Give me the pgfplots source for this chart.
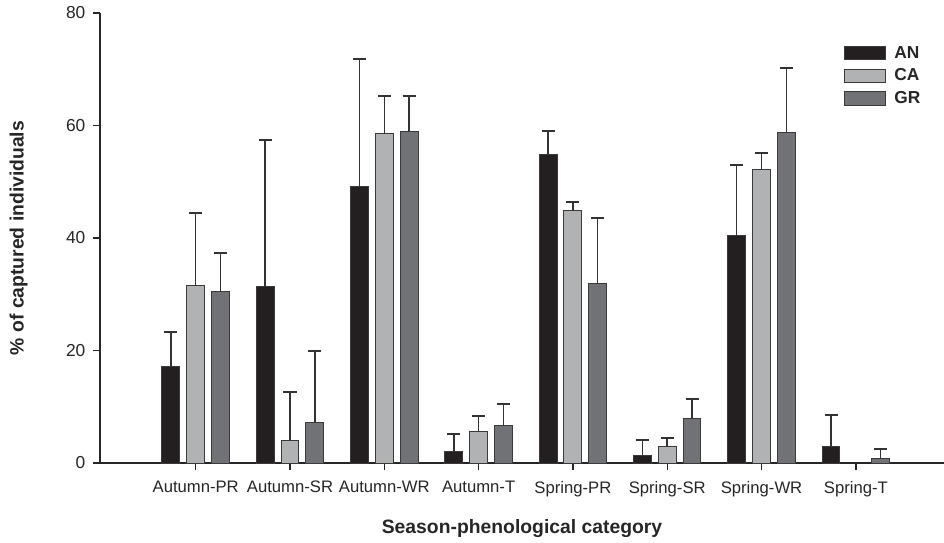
\documentclass[border=0pt]{standalone}
\usepackage{pgfplots}
\pgfplotsset{compat=1.18}
\usepackage{pgfplotstable}
\usepackage{fontspec}
\setmainfont{Liberation Sans}

\definecolor{ancol}{HTML}{231F20}
\definecolor{cacol}{HTML}{B1B2B4}
\definecolor{grcol}{HTML}{717276}
\definecolor{edge}{HTML}{3A3A3A}

% x  mean  upper error
\pgfplotstableread{
x y e
1 17.2 6.1
2 31.3 26.2
3 49.1 22.8
4 2.0 3.2
5 54.9 4.1
6 1.4 2.7
7 40.4 12.6
8 3.0 5.6
}\tblAN
\pgfplotstableread{
x y e
1 31.5 12.9
2 4.0 8.7
3 58.5 6.8
4 5.6 2.8
5 44.8 1.6
6 2.9 1.5
7 52.1 3.0
}\tblCA
\pgfplotstableread{
x y e
1 30.4 7.0
2 7.2 12.8
3 58.9 6.3
4 6.6 3.9
5 31.9 11.6
6 8.0 3.3
7 58.8 11.5
8 0.8 1.7
}\tblGR

\begin{document}
\begin{tikzpicture}
\begin{axis}[
    name=ax,
    scale only axis,
    width=633pt, height=337.5pt,
    xmin=-0.015, xmax=8.935,
    ymin=0, ymax=80,
    axis x line*=bottom, axis y line*=left,
    axis line style={line width=1.5pt, black!85},
    tick style={line width=1pt, black!85},
    major tick length=5pt,
    tick align=outside,
    xtick={1,...,8},
    xticklabels={Autumn-PR,Autumn-SR,Autumn-WR,Autumn-T,Spring-PR,Spring-SR,Spring-WR,Spring-T},
    ytick={0,20,40,60,80},
    /pgf/number format/assume math mode=true,
    xticklabel style={font=\fontsize{12.5}{14}\selectfont, text=black!85, yshift=-5pt},
    yticklabel style={font=\fontsize{13}{15}\selectfont, text=black!85, xshift=-2.5pt},
    xlabel={Season-phenological category},
    ylabel={\% of captured individuals},
    label style={font=\bfseries\fontsize{14.5}{17}\selectfont, text=black!85},
    xlabel style={at={(rel axis cs:0.5,0)}, anchor=base, yshift=-52.5pt},
    ylabel style={at={(rel axis cs:0,0.5)}, anchor=north, inner sep=0pt, yshift=68pt},
    ybar, bar width=0.19,
    legend style={at={(rel axis cs:0.8815,0.933)}, anchor=north west,
        draw=none, fill=none, inner sep=0pt,
        font=\bfseries\fontsize{13}{15}\selectfont, text=black!85,
        row sep=2.5pt,
        nodes={inner xsep=6pt}},
    legend cell align=left,
    legend image code/.code={\draw[#1, draw=edge, line width=0.75pt] (0pt,-5pt) rectangle (30.75pt,5pt);},
    error bars/y dir=plus,
    error bars/y explicit,
    error bars/error bar style={line width=1.1pt, black!80},
    error bars/error mark options={line width=1.5pt, black!80, mark size=4.9pt, rotate=90},
]
\addplot[fill=ancol, draw=edge, line width=0.75pt, bar shift=-0.263]
    table[x=x, y=y, y error=e]{\tblAN};
\addlegendentry{AN}
\addplot[fill=cacol, draw=edge, line width=0.75pt, bar shift=0]
    table[x=x, y=y, y error=e]{\tblCA};
\addlegendentry{CA}
\addplot[fill=grcol, draw=edge, line width=0.75pt, bar shift=0.263]
    table[x=x, y=y, y error=e]{\tblGR};
\addlegendentry{GR}
\end{axis}
\pgfresetboundingbox
\path ([shift={(-75pt,-59.25pt)}]ax.south west) rectangle ([shift={(0pt,9.75pt)}]ax.north east);
\end{tikzpicture}
\end{document}
